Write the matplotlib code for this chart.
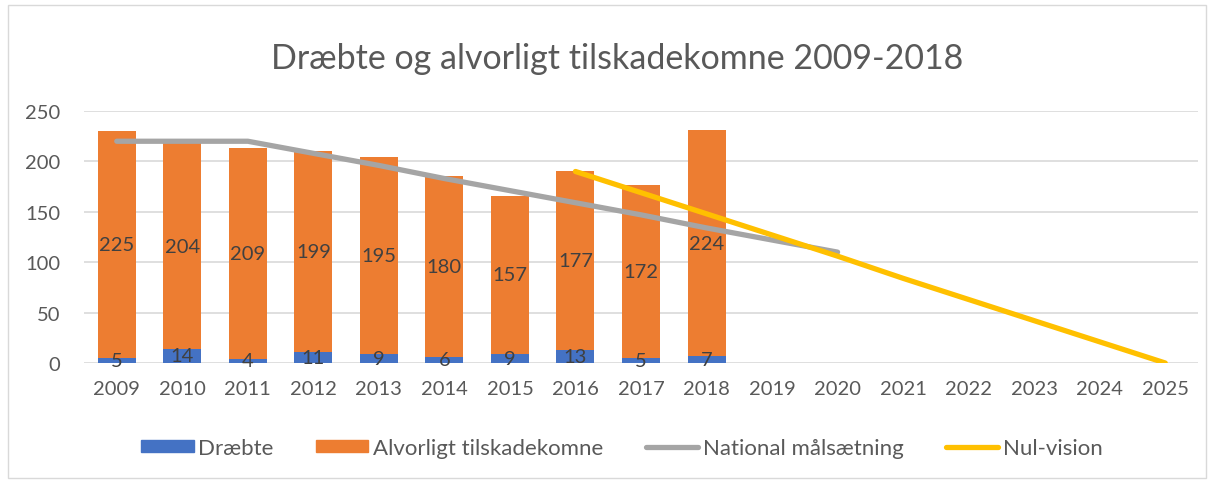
import matplotlib
matplotlib.use("Agg")
import matplotlib.pyplot as plt
from matplotlib.patches import Rectangle
from matplotlib.lines import Line2D
from matplotlib.patches import Patch

plt.rcParams['font.family'] = ['Lato', 'DejaVu Sans']

years = ["2009", "2010", "2011", "2012", "2013", "2014", "2015", "2016", "2017",
         "2018", "2019", "2020", "2021", "2022", "2023", "2024", "2025"]
draebte = [5, 14, 4, 11, 9, 6, 9, 13, 5, 7]
alvorligt = [225, 204, 209, 199, 195, 180, 157, 177, 172, 224]
national = [220, 220, 220, 208, 196, 183, 171, 159, 147, 134, 122, 110]
nulvision = [190, 169, 148, 127, 106, 84, 63, 42, 21, 0]
nul_start = 7  # index of 2016

BLUE = "#4472C4"
ORANGE = "#ED7D31"
GRAY = "#A5A5A5"
YELLOW = "#FFC000"
TXT = "#595959"
LBL = "#404040"

fig = plt.figure(figsize=(12.14, 4.81), dpi=100)
ax = fig.add_axes([84/1214, 1-364/481, (1198-84)/1214, (364-112)/481])

x = list(range(len(years)))
xb = x[:len(draebte)]
bw = 0.58
ax.bar(xb, draebte, width=bw, color=BLUE, zorder=2)
ax.bar(xb, alvorligt, width=bw, bottom=draebte, color=ORANGE, zorder=2)
ax.plot(x[:len(national)], national, color=GRAY, lw=3.8, zorder=3, solid_capstyle='round')
ax.plot(x[nul_start:nul_start+len(nulvision)], nulvision, color=YELLOW, lw=3.8, zorder=4,
        solid_capstyle='round')

for i, (d, a) in enumerate(zip(draebte, alvorligt)):
    ax.text(i, d/2, str(d), ha='center', va='center', fontsize=14.5, color=LBL, zorder=5)
    ax.text(i, d + a/2, str(a), ha='center', va='center', fontsize=14.5, color=LBL, zorder=5)

ax.set_xlim(-0.5, len(years)-0.5)
ax.set_ylim(0, 250)
ax.set_yticks([0, 50, 100, 150, 200, 250])
ax.set_xticks(x)
ax.set_xticklabels(years)
ax.tick_params(axis='both', length=0, labelsize=14.5, labelcolor=TXT)
ax.tick_params(axis='x', pad=12)
ax.tick_params(axis='y', pad=17)
ax.grid(axis='y', color="#D9D9D9", lw=1.2, zorder=0)
ax.set_axisbelow(True)
for s in ax.spines.values():
    s.set_visible(False)

fig.text(617/1214, 1-59/481, "Dræbte og alvorligt tilskadekomne 2009-2018",
         ha='center', va='center', fontsize=24.5, color=TXT)

handles = [Patch(color=BLUE), Patch(color=ORANGE),
           Line2D([0], [0], color=GRAY, lw=3.8, solid_capstyle='round'),
           Line2D([0], [0], color=YELLOW, lw=3.8, solid_capstyle='round')]
labels = ["Dræbte", "Alvorligt tilskadekomne", "National målsætning", "Nul-vision"]
fig.legend(handles, labels, loc='center', bbox_to_anchor=(622/1214, 1-449/481), ncol=4,
           frameon=False, fontsize=16, labelcolor=TXT, handlelength=2.35, handleheight=0.45,
           columnspacing=1.9, handletextpad=0.22)

fig.patches.append(Rectangle((8/1214, 0.005), 1198/1214, 1-8/481, transform=fig.transFigure,
                             fill=False, edgecolor="#D9D9D9", lw=1))

fig.savefig("out.png", dpi=100)
